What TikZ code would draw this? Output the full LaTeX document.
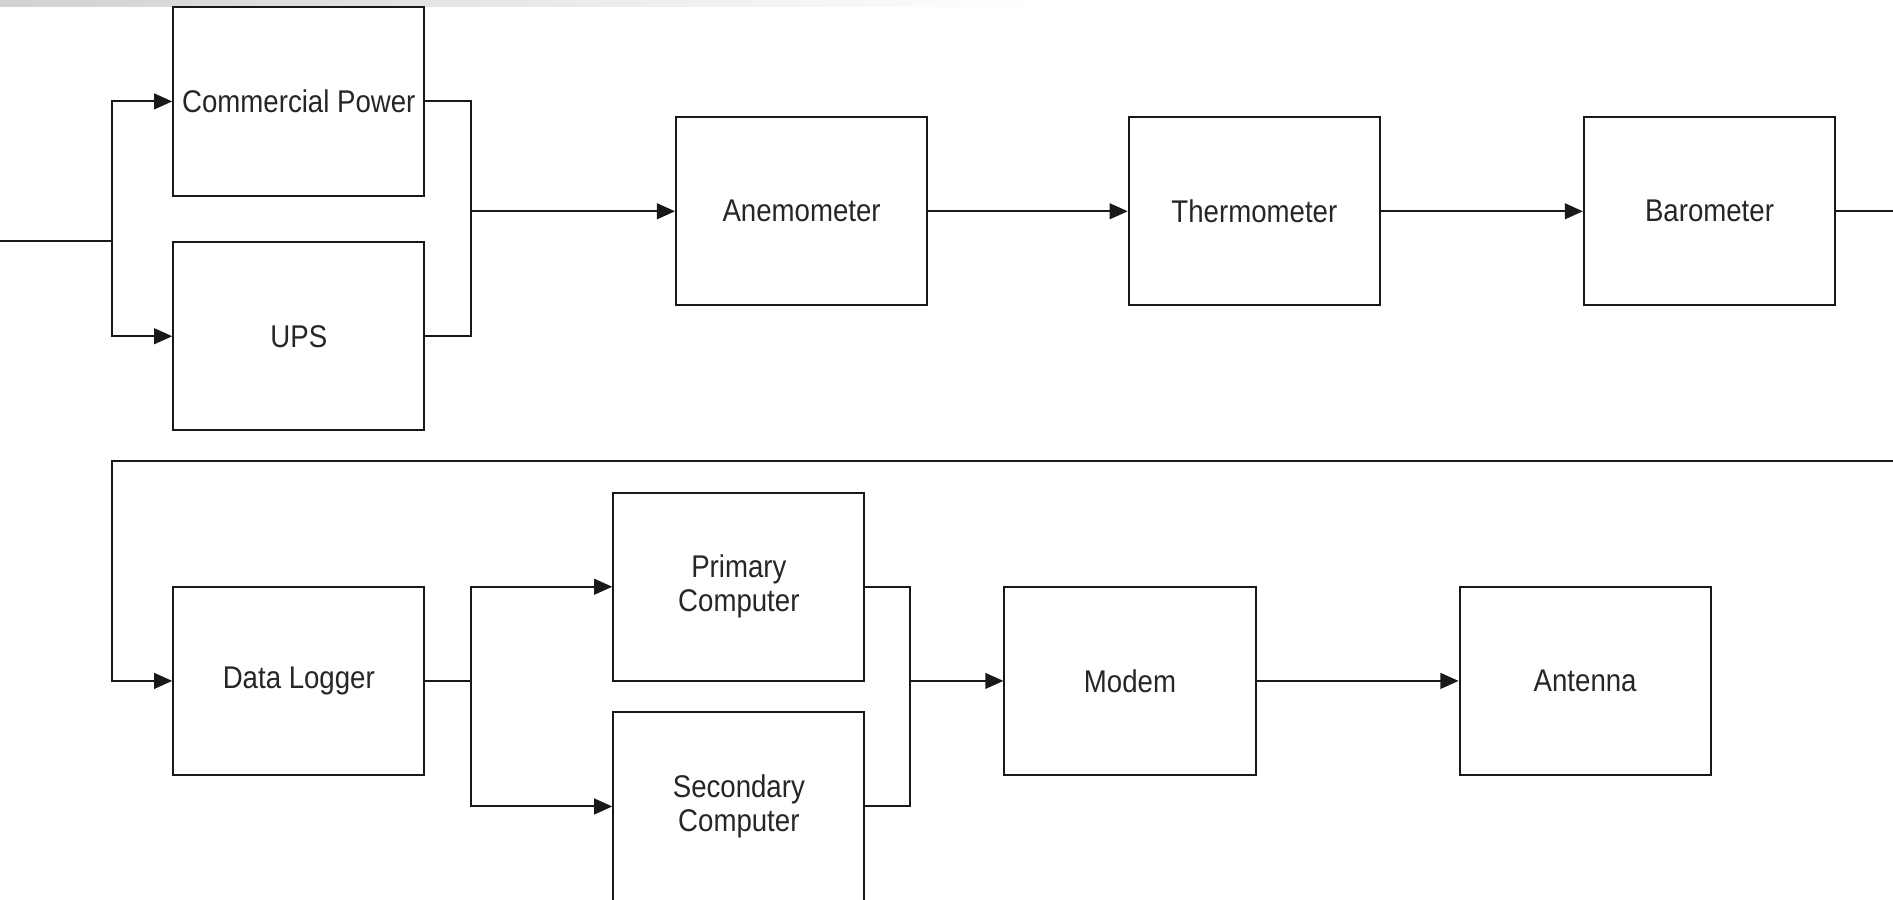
\documentclass[tikz,border=0pt]{standalone}
\usepackage{fontspec}
\setmainfont[FakeStretch=0.88]{Liberation Sans}
\usetikzlibrary{arrows.meta}

\tikzset{
  block/.style={draw=black!90, line width=1.7pt, fill=white,
    minimum width=208pt, minimum height=156pt, inner sep=0pt,
    align=center, text=black!85,
    font=\fontsize{26}{28}\selectfont},
  link/.style={draw=black!90, line width=1.7pt},
  arr/.style={link, -{Triangle[length=15pt,width=13pt]}},
}

\begin{document}
\begin{tikzpicture}[x=1pt, y=-1pt]
  \useasboundingbox (0,0) rectangle (1568,745);
  \clip (0,0) rectangle (1568,745);

  % faint header strip
  \shade[left color=black!18, right color=white] (0,0) rectangle (860,5);

  % power supply
  \node[block] (cp)  at (247.5,84)  {Commercial Power};
  \node[block] (ups) at (247.5,278.5) {UPS};

  % sensor chain
  \node[block] (anem)   at (664,175)  {Anemometer};
  \node[block] (thermo) at (1039,175) {Thermometer};
  \node[block] (baro)   at (1416,175) {Barometer};

  % logging and transmission
  \node[block] (dl)    at (247.5,564) {Data Logger};
  \node[block] (pc)    at (612,486)   {Primary\\Computer};
  \node[block] (sc)    at (612,668)   {Secondary\\Computer};
  \node[block] (modem) at (936,564)   {Modem};
  \node[block] (ant)   at (1313,564)  {Antenna};

  % junction points
  \coordinate (in) at (0,200);
  \coordinate (split1) at (93,200);
  \coordinate (merge1) at (390,175);
  \coordinate (far) at (1620,175);
  \coordinate (back) at (93,382);
  \coordinate (split2) at (390,564);
  \coordinate (merge2) at (754,564);

  % power input fan-out and merge
  \draw[link] (in) -- (split1);
  \draw[arr] (split1) |- (cp.west);
  \draw[arr] (split1) |- (ups.west);
  \draw[link] (cp.east) -| (merge1);
  \draw[link] (ups.east) -| (merge1);
  \draw[arr] (merge1) -- (anem.west);

  % sensors in series
  \draw[arr] (anem) -- (thermo);
  \draw[arr] (thermo) -- (baro);

  % return run to the data logger
  \draw[arr] (baro.east) -- (far) |- (back) |- (dl.west);

  % redundant computers
  \draw[link] (dl.east) -- (split2);
  \draw[arr] (split2) |- (pc.west);
  \draw[arr] (split2) |- (sc.west);
  \draw[link] (pc.east) -| (merge2);
  \draw[link] (sc.east) -| (merge2);
  \draw[arr] (merge2) -- (modem.west);
  \draw[arr] (modem) -- (ant);
\end{tikzpicture}
\end{document}
